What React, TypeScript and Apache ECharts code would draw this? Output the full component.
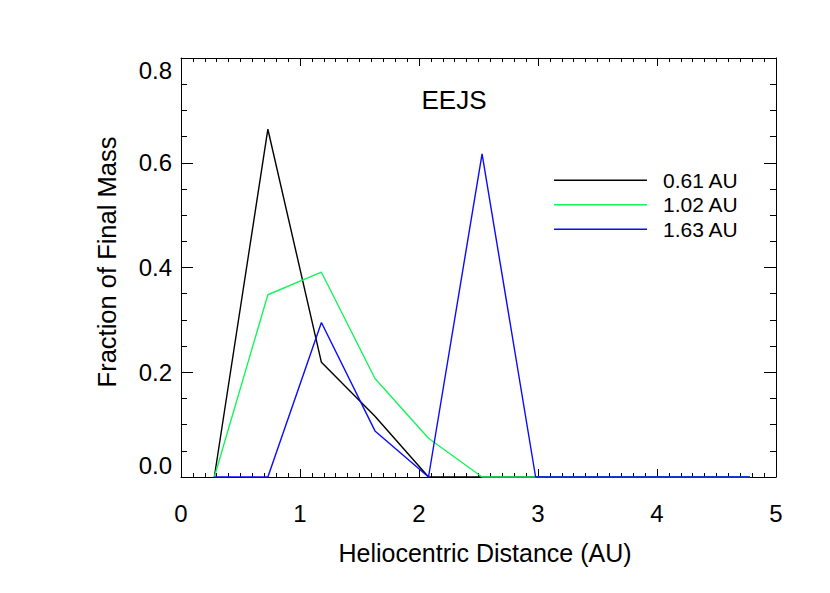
import React, { useEffect, useRef } from "react";
import * as echarts from "echarts";

const distances = [0.28, 0.73, 1.18, 1.63, 2.08, 2.53, 2.98, 3.43, 3.88, 4.33, 4.78];
const seriesNames = ["0.61 AU", "1.02 AU", "1.63 AU"];
const mass061 = [0, 0.664, 0.219, 0.116, 0, 0, 0, 0, 0, 0, 0];
const mass102 = [0, 0.348, 0.391, 0.188, 0.074, 0, 0, 0, 0, 0, 0];
const mass163 = [0, 0, 0.295, 0.088, 0, 0.617, 0, 0, 0, 0, 0];
const seriesColors = ["#000000", "#14f55a", "#0a0aff"];
const titleText = "EEJS";
const xTitle = "Heliocentric Distance (AU)";
const yTitle = "Fraction of Final Mass";

const FONT = "Liberation Sans, Arial, Helvetica, sans-serif";

export default function App() {
  const ref = useRef<HTMLDivElement>(null);
  useEffect(() => {
    if (!ref.current) return;
    const chart = echarts.init(ref.current, undefined, { renderer: "svg" });
    const values = [mass061, mass102, mass163];
    const axisCommon = {
      axisLine: { show: true, onZero: false, lineStyle: { color: "#000", width: 1 } },
      splitLine: { show: false },
      minorSplitLine: { show: false },
    };
    const xBase = {
      type: "value",
      min: 0,
      max: 5,
      interval: 1,
      ...axisCommon,
      axisTick: { show: true, inside: true, length: 8, lineStyle: { color: "#000" } },
      minorTick: { show: true, splitNumber: 10, length: 4, lineStyle: { color: "#000" } },
    };
    const yBase = {
      type: "value",
      min: 0,
      max: 0.8,
      interval: 0.2,
      ...axisCommon,
      axisTick: { show: true, inside: true, length: 12, lineStyle: { color: "#000" } },
      minorTick: { show: true, splitNumber: 4, length: 6, lineStyle: { color: "#000" } },
    };
    chart.setOption({
      animation: false,
      backgroundColor: "#ffffff",
      grid: { left: 181, right: 54, top: 58, bottom: 116, containLabel: false },
      xAxis: [
        {
          ...xBase,
          position: "bottom",
          axisLabel: {
            show: true,
            color: "#000",
            fontFamily: FONT,
            fontSize: 24,
            margin: 24,
            formatter: (v: number) => String(Math.round(v)),
          },
        },
        { ...xBase, position: "top", axisLabel: { show: false } },
      ],
      yAxis: [
        {
          ...yBase,
          position: "left",
          axisLabel: {
            show: true,
            color: "#000",
            fontFamily: FONT,
            fontSize: 24,
            margin: 9,
            formatter: (v: number) => v.toFixed(1),
            verticalAlignMinLabel: "bottom",
            verticalAlignMaxLabel: "top",
          },
        },
        { ...yBase, position: "right", axisLabel: { show: false } },
      ],
      legend: {
        show: true,
        orient: "vertical",
        left: 549,
        top: 163,
        icon: "rect",
        itemWidth: 93,
        itemHeight: 1.4,
        itemGap: 0,
        textStyle: {
          fontFamily: FONT,
          fontSize: 21,
          color: "#000",
          lineHeight: 24.5,
          padding: [0, 0, 0, 11],
        },
        data: seriesNames,
      },
      graphic: [
        {
          type: "text",
          x: 454,
          y: 100,
          style: {
            text: titleText,
            font: `26px ${FONT}`,
            fill: "#000",
            align: "center",
            verticalAlign: "middle",
          },
        },
        {
          type: "text",
          x: 485,
          y: 553,
          style: {
            text: xTitle,
            font: `25px ${FONT}`,
            fill: "#000",
            align: "center",
            verticalAlign: "middle",
          },
        },
        {
          type: "text",
          x: 107,
          y: 262,
          rotation: Math.PI / 2,
          style: {
            text: yTitle,
            font: `25.5px ${FONT}`,
            fill: "#000",
            align: "center",
            verticalAlign: "middle",
          },
        },
      ],
      series: seriesNames.map((name, i) => ({
        name,
        type: "line",
        xAxisIndex: 0,
        yAxisIndex: 0,
        data: distances.map((d, j) => [d, values[i][j]]),
        symbol: "none",
        showSymbol: false,
        clip: false,
        color: seriesColors[i],
        lineStyle: { color: seriesColors[i], width: 1.4 },
        z: 3 + i,
      })),
    });
    return () => chart.dispose();
  }, []);
  return (
    <div
      ref={ref}
      style={{ position: "fixed", left: 0, top: 0, width: 830, height: 593, background: "#fff" }}
    />
  );
}
